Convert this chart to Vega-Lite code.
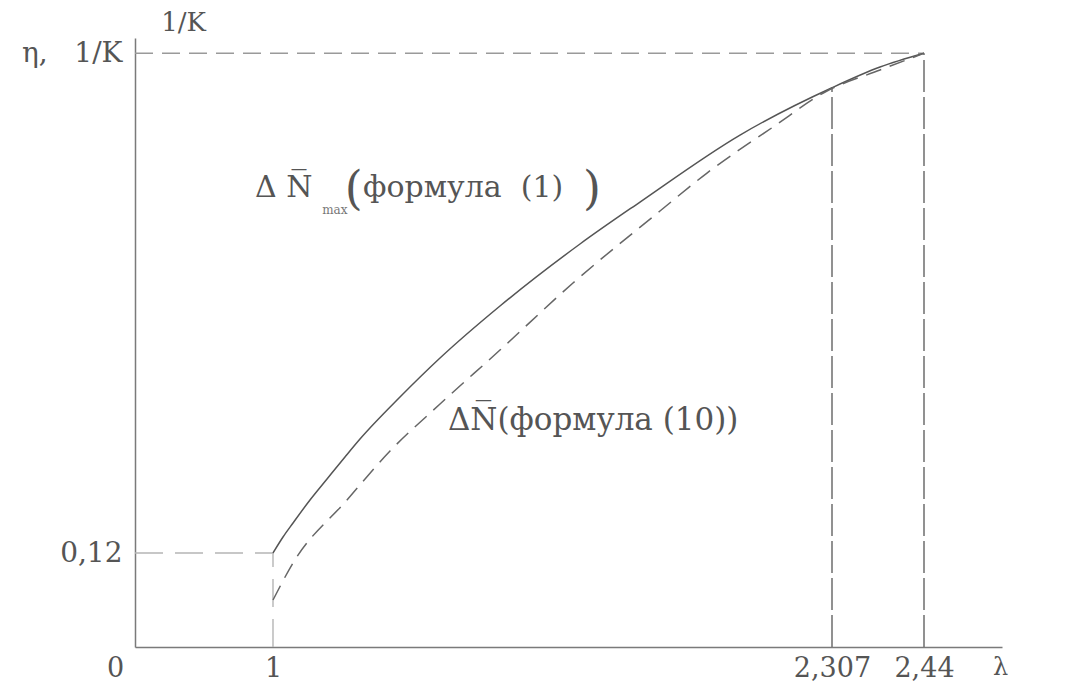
{
  "$schema": "https://vega.github.io/schema/vega-lite/v6.json",
  "autosize": {"type": "none"},
  "width": 867,
  "height": 609,
  "padding": {"left": 135, "top": 38, "right": 63, "bottom": 43},
  "background": "white",
  "config": {
    "view": {"stroke": null},
    "font": "DejaVu Serif"
  },
  "datasets": {
    "curves": [
      {"curve": "max", "lam": 1.0, "eta": 0.12},
      {"curve": "max", "lam": 1.0234, "eta": 0.1404},
      {"curve": "max", "lam": 1.0468, "eta": 0.1583},
      {"curve": "max", "lam": 1.0865, "eta": 0.1877},
      {"curve": "max", "lam": 1.1263, "eta": 0.2145},
      {"curve": "max", "lam": 1.1683, "eta": 0.2426},
      {"curve": "max", "lam": 1.2034, "eta": 0.2655},
      {"curve": "max", "lam": 1.2969, "eta": 0.3191},
      {"curve": "max", "lam": 1.3905, "eta": 0.3689},
      {"curve": "max", "lam": 1.5307, "eta": 0.4353},
      {"curve": "max", "lam": 1.7178, "eta": 0.5145},
      {"curve": "max", "lam": 1.8581, "eta": 0.5681},
      {"curve": "max", "lam": 2.0919, "eta": 0.6536},
      {"curve": "max", "lam": 2.307, "eta": 0.714},
      {"curve": "max", "lam": 2.3764, "eta": 0.7404},
      {"curve": "max", "lam": 2.44, "eta": 0.758},
      {"curve": "f10", "lam": 1.0, "eta": 0.06},
      {"curve": "f10", "lam": 1.0468, "eta": 0.1072},
      {"curve": "f10", "lam": 1.173, "eta": 0.1877},
      {"curve": "f10", "lam": 1.2736, "eta": 0.2502},
      {"curve": "f10", "lam": 1.3905, "eta": 0.3102},
      {"curve": "f10", "lam": 1.5307, "eta": 0.3791},
      {"curve": "f10", "lam": 1.7014, "eta": 0.4647},
      {"curve": "f10", "lam": 1.9048, "eta": 0.5566},
      {"curve": "f10", "lam": 2.0147, "eta": 0.6051},
      {"curve": "f10", "lam": 2.169, "eta": 0.6638},
      {"curve": "f10", "lam": 2.2953, "eta": 0.7098},
      {"curve": "f10", "lam": 2.3764, "eta": 0.7366},
      {"curve": "f10", "lam": 2.44, "eta": 0.758}
    ],
    "guides": [
      {"kind": "light", "lam": 0, "lam2": 1, "eta": 0.12, "eta2": 0.12},
      {"kind": "light", "lam": 1, "lam2": 1, "eta": 0, "eta2": 0.12},
      {"kind": "top", "lam": 0, "lam2": 2.44, "eta": 0.758, "eta2": 0.758},
      {"kind": "long", "lam": 2.307, "lam2": 2.307, "eta": 0, "eta2": 0.714},
      {"kind": "long", "lam": 2.44, "lam2": 2.44, "eta": 0, "eta2": 0.758}
    ],
    "notes": [
      {"role": "main", "text": "Δ N̅", "lam": 0.87, "eta": 0.5745},
      {"role": "sub", "text": "max", "lam": 1.115, "eta": 0.553},
      {"role": "paren", "text": "(", "lam": 1.168, "eta": 0.566},
      {"role": "main", "text": "формула\u00a0\u00a0(1)", "lam": 1.2104, "eta": 0.5745},
      {"role": "paren", "text": ")", "lam": 1.7248, "eta": 0.566},
      {"role": "label", "text": "ΔN̅(формула (10))", "lam": 1.409, "eta": 0.277}
    ]
  },
  "encoding": {
    "x": {
      "field": "lam",
      "type": "quantitative",
      "scale": {
        "domain": [0, 1, 2.307, 2.44, 2.553],
        "range": [0, 138, 697, 789, 867],
        "zero": false,
        "nice": false
      },
      "axis": {
        "values": [0, 1, 2.307, 2.44],
        "labelExpr": "replace(toString(datum.value), '.', ',')",
        "grid": false,
        "ticks": false,
        "domainColor": "#7a7a7a",
        "domainWidth": 1.5,
        "labelFont": "DejaVu Serif",
        "labelFontSize": 27,
        "labelColor": "#555555",
        "labelPadding": 8,
        "labelFlush": false,
        "labelOverlap": false,
        "labelBound": false,
        "labelOffset": {"condition": {"test": "datum.value == 0", "value": -20}, "value": 0},
        "title": "λ",
        "titleFont": "DejaVu Serif",
        "titleFontSize": 24,
        "titleFontWeight": "normal",
        "titleColor": "#555555",
        "titleX": 865,
        "titleY": 20,
        "titleAlign": "center",
        "titleBaseline": "middle",
        "titleAngle": 0
      }
    },
    "y": {
      "field": "eta",
      "type": "quantitative",
      "scale": {"domain": [0, 0.7775], "zero": false, "nice": false},
      "axis": {
        "values": [0.12, 0.758],
        "labelExpr": "datum.value == 0.12 ? '0,12' : 'η,\u00a0\u00a0\u00a01/K'",
        "grid": false,
        "ticks": false,
        "domainColor": "#7a7a7a",
        "domainWidth": 1.5,
        "labelFont": "DejaVu Serif",
        "labelFontSize": 28,
        "labelColor": "#555555",
        "labelPadding": 13,
        "labelBaseline": "middle",
        "labelOverlap": false,
        "labelBound": false,
        "labelFlush": false,
        "title": "1/K",
        "titleFont": "DejaVu Serif",
        "titleFontSize": 26,
        "titleFontWeight": "normal",
        "titleColor": "#555555",
        "titleX": 48,
        "titleY": -16,
        "titleAlign": "center",
        "titleBaseline": "middle",
        "titleAngle": 0
      }
    }
  },
  "layer": [
    {
      "data": {"name": "guides"},
      "transform": [{"filter": "datum.kind == 'light'"}],
      "mark": {"type": "rule", "color": "#b5b5b5", "strokeWidth": 1.4, "strokeDash": [28, 12]},
      "encoding": {"x2": {"field": "lam2"}, "y2": {"field": "eta2"}}
    },
    {
      "data": {"name": "guides"},
      "transform": [{"filter": "datum.kind == 'top'"}],
      "mark": {"type": "rule", "color": "#9a9a9a", "strokeWidth": 1.4, "strokeDash": [18, 9]},
      "encoding": {"x2": {"field": "lam2"}, "y2": {"field": "eta2"}}
    },
    {
      "data": {"name": "guides"},
      "transform": [{"filter": "datum.kind == 'long'"}],
      "mark": {"type": "rule", "color": "#6e6e6e", "strokeWidth": 1.5, "strokeDash": [32, 5]},
      "encoding": {"x2": {"field": "lam2"}, "y2": {"field": "eta2"}}
    },
    {
      "data": {"name": "curves"},
      "transform": [{"filter": "datum.curve == 'max'"}],
      "mark": {"type": "line", "color": "#555555", "strokeWidth": 1.5, "interpolate": "monotone"},
      "encoding": {"order": {"field": "lam"}}
    },
    {
      "data": {"name": "curves"},
      "transform": [{"filter": "datum.curve == 'f10'"}],
      "mark": {"type": "line", "color": "#666666", "strokeWidth": 1.5, "strokeDash": [16, 9], "interpolate": "monotone"},
      "encoding": {"order": {"field": "lam"}}
    },
    {
      "data": {"name": "notes"},
      "transform": [{"filter": "datum.role == 'main'"}],
      "mark": {"type": "text", "align": "left", "baseline": "alphabetic", "font": "DejaVu Serif", "fontSize": 30, "color": "#555555"},
      "encoding": {"text": {"field": "text"}}
    },
    {
      "data": {"name": "notes"},
      "transform": [{"filter": "datum.role == 'label'"}],
      "mark": {"type": "text", "align": "left", "baseline": "alphabetic", "font": "DejaVu Serif", "fontSize": 31, "color": "#555555"},
      "encoding": {"text": {"field": "text"}}
    },
    {
      "data": {"name": "notes"},
      "transform": [{"filter": "datum.role == 'sub'"}],
      "mark": {"type": "text", "align": "left", "baseline": "alphabetic", "font": "DejaVu Serif", "fontSize": 12, "color": "#777777"},
      "encoding": {"text": {"field": "text"}}
    },
    {
      "data": {"name": "notes"},
      "transform": [{"filter": "datum.role == 'paren'"}],
      "mark": {"type": "text", "align": "left", "baseline": "alphabetic", "font": "DejaVu Serif", "fontSize": 46, "color": "#555555"},
      "encoding": {"text": {"field": "text"}}
    }
  ]
}
